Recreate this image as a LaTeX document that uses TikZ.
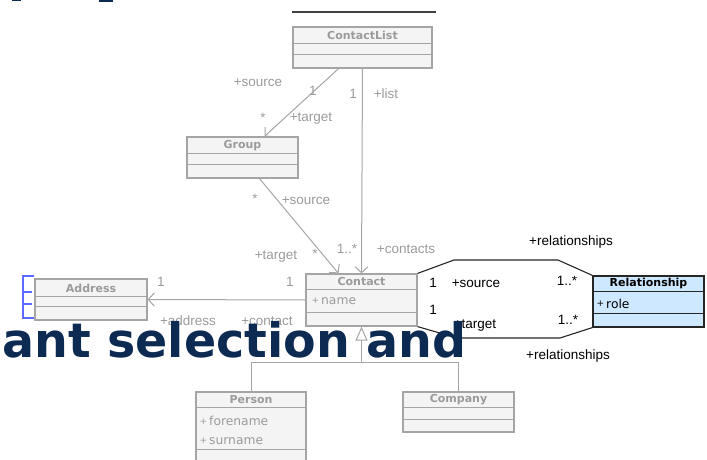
\documentclass[tikz,border=0pt]{standalone}
\usepackage{fontspec}
\setmainfont{Liberation Sans}
\newfontfamily\verdfont{DejaVu Sans}
\usetikzlibrary{positioning}
\usetikzlibrary{arrows.meta}

\definecolor{boxgray}{RGB}{165,165,165}
\definecolor{boxfill}{RGB}{244,244,244}
\definecolor{textgray}{RGB}{155,155,155}
\definecolor{relblue}{RGB}{206,232,255}
\definecolor{slidenavy}{RGB}{12,42,82}
\definecolor{bracketblue}{RGB}{95,105,255}

\tikzset{
  cls/.style={draw=boxgray, fill=boxfill, line width=1.2pt, rectangle, inner sep=0pt},
  selcls/.style={draw=black!85, fill=relblue, line width=1.1pt, rectangle, inner sep=0pt},
  ctitle/.style={text=textgray, font=\verdfont\bfseries\fontsize{11}{12}\selectfont, inner sep=0pt},
  attr/.style={text=textgray, font=\verdfont\fontsize{12.3}{14}\selectfont, inner sep=0pt, anchor=west},
  lbl/.style={text=textgray, font=\fontsize{13.5}{15}\selectfont, inner sep=0pt},
  cline/.style={draw=boxgray, line width=1pt},
  assoc/.style={draw=boxgray, line width=1pt, -{Straight Barb[length=6pt,width=13pt]}},
  gen/.style={draw=boxgray, line width=1pt},
  relline/.style={draw=black!85, line width=1.1pt},
  slidetext/.style={text=slidenavy, font=\verdfont\bfseries\fontsize{47.5}{48}\selectfont, inner sep=0pt}
}

\newcommand{\plus}{{\fontsize{9}{9}\selectfont\raisebox{1.5pt}{+}}\,}

\begin{document}
\begin{tikzpicture}[x=1pt, y=-1pt]

\useasboundingbox (0,0) rectangle (707,460);
\clip (0,0) rectangle (707,460);

% Leftovers of the slide
\draw[black!75, line width=1.4pt] (292,12) -- (436,12);
\fill[slidenavy] (12,0) rectangle (21,1.5);
\fill[slidenavy] (99,0) rectangle (113,1.8);

% Classes
\node[cls, minimum width=139pt, minimum height=41pt] (contactlist) at (362.5,47.5) {};
\node[cls, minimum width=111pt, minimum height=41pt] (group) at (242.5,157.5) {};
\node[cls, minimum width=111pt, minimum height=52pt] (contact) at (361.5,300) {};
\node[cls, minimum width=112pt, minimum height=41pt] (address) at (91,299.5) {};
\node[selcls, minimum width=111pt, minimum height=51pt] (relationship) at (648.5,301.5) {};
\node[cls, minimum width=110pt, minimum height=71pt] (person) at (251,427.5) {};
\node[cls, minimum width=111pt, minimum height=40pt] (company) at (458.5,412) {};

% Compartments
\foreach \c/\a/\b in {contactlist/17/28, group/17/28, address/18/28, company/16/28, contact/16/39, person/16/58}
{
    \draw[cline] ([yshift=-\a pt]\c.north west) -- ([yshift=-\a pt]\c.north east);
    \draw[cline] ([yshift=-\b pt]\c.north west) -- ([yshift=-\b pt]\c.north east);
}
\draw[relline] ([yshift=-16pt]relationship.north west) -- ([yshift=-16pt]relationship.north east);
\draw[relline] ([yshift=-38pt]relationship.north west) -- ([yshift=-38pt]relationship.north east);

% Class names
\node[ctitle] (contactlist-t) at ([yshift=-9pt]contactlist.north) {ContactList};
\node[ctitle] (group-t) at ([yshift=-9pt]group.north) {Group};
\node[ctitle] (contact-t) at ([yshift=-8.5pt]contact.north) {Contact};
\node[ctitle] (address-t) at ([yshift=-9.5pt]address.north) {Address};
\node[ctitle] (person-t) at ([yshift=-8.5pt]person.north) {Person};
\node[ctitle] (company-t) at ([yshift=-8.5pt]company.north) {Company};
\node[ctitle, text=black] (relationship-t) at ([yshift=-8.5pt]relationship.north) {Relationship};

% Attributes
\node[attr] (contact-name) at ([xshift=6pt,yshift=-28pt]contact.north west) {\plus name};
\node[attr, text=black] (relationship-role) at ([xshift=4pt,yshift=-28pt]relationship.north west) {\plus role};
\node[attr] (person-fore) at ([xshift=4pt,yshift=-30pt]person.north west) {\plus forename};
\node[attr] (person-sur) at ([xshift=4pt,yshift=-50pt]person.north west) {\plus surname};

% Associations
\draw[assoc] ([xshift=-24pt]contactlist.south) -- ([xshift=22pt]group.north);
\draw[assoc] (contactlist.south) -- (contact.north);
\draw[assoc] ([xshift=17pt]group.south) -- ([xshift=-23pt]contact.north);
\draw[assoc] (contact.west) -- (address.east);

% Generalization
\coordinate (fork) at (361.5,362);
\draw[gen] (person.north) -- (person.north |- fork) -- (company.north |- fork) -- (company.north);
\draw[gen, -{Triangle[open, length=14pt, width=12pt, fill=white]}] (fork) -- (contact.south);

% Relationship links
\draw[relline] (contact.north east) -- (454,260) -- (558,260) -- (relationship.north west);
\draw[relline] (contact.south east) -- (457,338) -- (560,338) -- (relationship.south west);

% Role and multiplicity labels
\node[lbl] (l1) at (258,83) {+source};
\node[lbl] (l2) at (313,91) {1};
\node[lbl] (l3) at (353,94) {1};
\node[lbl] (l4) at (386,94) {+list};
\node[lbl] (l5) at (263,118) {*};
\node[lbl] (l6) at (311,119) {+target};
\node[lbl] (l7) at (255,199) {*};
\node[lbl] (l8) at (306,201) {+source};
\node[lbl] (l9) at (276,257) {+target};
\node[lbl] (l10) at (315,254) {*};
\node[lbl] (l11) at (347,249) {1..*};
\node[lbl] (l12) at (406,249) {+contacts};
\node[lbl] (l13) at (161,282) {1};
\node[lbl] (l14) at (290,282) {1};
\node[lbl] (l15) at (188,321) {+address};
\node[lbl] (l16) at (267,321) {+contact};

\node[lbl, text=black] (r1) at (571,242) {+relationships};
\node[lbl, text=black] (r2) at (433,283) {1};
\node[lbl, text=black] (r3) at (476,284) {+source};
\node[lbl, text=black] (r4) at (567,281) {1..*};
\node[lbl, text=black] (r5) at (433,310) {1};
\node[lbl, text=black] (r6) at (475,326) {+target};
\node[lbl, text=black] (r7) at (568,320) {1..*};
\node[lbl, text=black] (r8) at (568,356) {+relationships};

% Bracket at the left of Address
\draw[bracketblue, line width=1.2pt] (34,276) -- (23,276) -- (23,318) -- (34,318);
\draw[bracketblue, line width=1.2pt] (23,292) -- (32,292);
\draw[bracketblue, line width=1.2pt] (23,304) -- (32,304);

% Slide heading over the diagram
\node[slidetext, anchor=base west] (slidetitle) at (2,357) {ant selection and};

\end{tikzpicture}
\end{document}
